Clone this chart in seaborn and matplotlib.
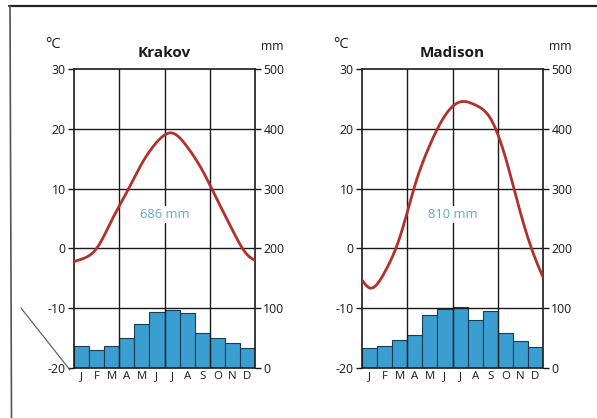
import numpy as np
import pandas as pd
import matplotlib
matplotlib.use("Agg")
import matplotlib.pyplot as plt
from matplotlib.lines import Line2D
import seaborn as sns

sns.set_style("white")
plt.rcParams['font.family'] = ['Open Sans', 'DejaVu Sans']

months = ["J", "F", "M", "A", "M", "J", "J", "A", "S", "O", "N", "D"]
temp_ticks = [-20, -10, 0, 10, 20, 30]
precip_ticks = [0, 100, 200, 300, 400, 500]

krakov_precip = [36, 30, 37, 51, 73, 93, 97, 92, 59, 50, 41, 34]
krakov_temp = [-1.8, 0.0, 4.7, 9.4, 14.2, 17.8, 19.3, 17.0, 13.1, 8.1, 3.1, -1.1]
krakov_temp_edges = [-2.2, -2.0]
krakov_total = "686 mm"

madison_precip = [34, 36, 46, 56, 89, 99, 102, 81, 95, 59, 45, 35]
madison_temp = [-6.6, -4.0, 1.8, 10.5, 17.3, 22.2, 24.5, 24.0, 21.8, 15.3, 6.0, -1.8]
madison_temp_edges = [-5.3, -4.8]
madison_total = "810 mm"

RED = "#b3302b"
BLUE = "#3a9fd0"
TEAL = "#5aaec4"
INK = "#1a1a1a"


def natural_spline(x, y, xs):
    x = np.asarray(x, float); y = np.asarray(y, float)
    n = len(x)
    h = np.diff(x)
    A = np.zeros((n, n)); b = np.zeros(n)
    A[0, 0] = 1; A[-1, -1] = 1
    for i in range(1, n - 1):
        A[i, i - 1] = h[i - 1]
        A[i, i] = 2 * (h[i - 1] + h[i])
        A[i, i + 1] = h[i]
        b[i] = 3 * ((y[i + 1] - y[i]) / h[i] - (y[i] - y[i - 1]) / h[i - 1])
    c = np.linalg.solve(A, b)
    bb = (np.diff(y) / h) - h * (2 * c[:-1] + c[1:]) / 3
    d = np.diff(c) / (3 * h)
    idx = np.clip(np.searchsorted(x, xs) - 1, 0, n - 2)
    dx = xs - x[idx]
    return y[idx] + bb[idx] * dx + c[idx] * dx ** 2 + d[idx] * dx ** 3


W, H = 597, 418
fig = plt.figure(figsize=(W / 100, H / 100), dpi=100)


def panel(left_px, name, precip, temp, edges, total):
    top_px, bot_px = 69, 368
    right_px = left_px + 181
    ax = fig.add_axes([left_px / W, 1 - bot_px / H, (right_px - left_px) / W, (bot_px - top_px) / H])
    axT = ax.twinx()

    df = pd.DataFrame({"m": [f"{i:02d}" for i in range(12)], "p": precip})
    sns.barplot(data=df, x="m", y="p", ax=ax, color=BLUE, saturation=1, width=1.0,
                edgecolor="#1d3b52", linewidth=0.8, zorder=2)
    ax.set_xlim(-0.5, 11.5)
    ax.set_ylim(0, 500)
    ax.set_xlabel(""); ax.set_ylabel("")
    ax.set_yticks(precip_ticks)
    ax.set_yticklabels([str(t) for t in precip_ticks], fontsize=8.8, color=INK)
    ax.yaxis.tick_right()
    ax.tick_params(axis="y", which="major", left=False, labelleft=False,
                   right=True, labelright=True, length=4, width=1, pad=2, colors=INK)
    ax.set_xticks(range(12))
    ax.set_xticklabels(months, fontsize=8.2, color=INK)
    ax.tick_params(axis="x", which="major", length=0, pad=2)
    ax.set_xticks(np.arange(-0.5, 12, 1), minor=True)
    ax.tick_params(axis="x", which="minor", length=5, width=1, color=INK, direction="out")
    for xv in [2.5, 5.5, 8.5]:
        ax.axvline(xv, color=INK, lw=1, zorder=3)
    for yv in [100, 200, 300, 400]:
        ax.axhline(yv, color=INK, lw=1, zorder=3)
    for s in ax.spines.values():
        s.set_color(INK); s.set_linewidth(1.2); s.set_visible(True)

    axT.set_ylim(-20, 30)
    axT.set_yticks(temp_ticks)
    axT.set_yticklabels([str(t) for t in temp_ticks], fontsize=8.8, color=INK)
    axT.yaxis.tick_left()
    axT.tick_params(axis="y", left=True, labelleft=True, right=False, labelright=False,
                    length=4, width=1, pad=2, colors=INK)
    for s in axT.spines.values():
        s.set_visible(False)
    xs_pts = [-0.5] + list(range(12)) + [11.5]
    ys_pts = [edges[0]] + list(temp) + [edges[1]]
    xs = np.linspace(-0.5, 11.5, 400)
    curve = pd.DataFrame({"x": xs, "t": natural_spline(xs_pts, ys_pts, xs)})
    sns.lineplot(data=curve, x="x", y="t", ax=axT, color=RED, lw=2.0, zorder=5)
    axT.set_xlim(-0.5, 11.5)
    axT.set_xlabel(""); axT.set_ylabel("")

    axT.text(5.5, 5.7, total, ha="center", va="center", fontsize=9.3, color=TEAL,
             bbox=dict(facecolor="white", edgecolor="none", pad=1.5), zorder=6)
    cx = (left_px + right_px) / 2
    fig.text(cx / W, 1 - 53 / H, name, ha="center", va="center", fontsize=11,
             fontweight="bold", color=INK)
    fig.text((left_px - 21) / W, 1 - 45 / H, "°C", ha="center", va="center",
             fontsize=10.5, color=INK)
    fig.text((right_px + 17) / W, 1 - 46 / H, "mm", ha="center", va="center",
             fontsize=8.8, color=INK)


panel(74, "Krakov", krakov_precip, krakov_temp, krakov_temp_edges, krakov_total)
panel(362, "Madison", madison_precip, madison_temp, madison_temp_edges, madison_total)

fig.add_artist(Line2D([9 / W, 1], [1 - 6 / H, 1 - 6 / H], color="#222222", lw=1.6))
fig.add_artist(Line2D([10 / W, 11.5 / W], [1 - 6 / H, 0], color="#555555", lw=1.2))
fig.add_artist(Line2D([21 / W, 70 / W], [1 - 308 / H, 1 - 370 / H], color="#555555", lw=0.8))

fig.savefig("out.png", dpi=100)
